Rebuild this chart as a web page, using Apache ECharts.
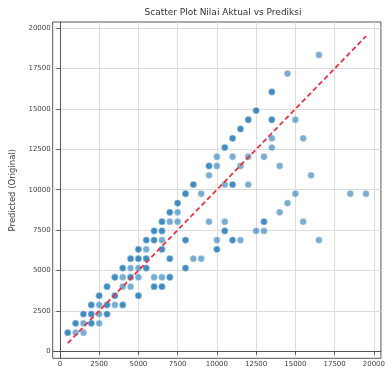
<!DOCTYPE html>
<html>
<head>
<meta charset="utf-8">
<script src="https://cdn.jsdelivr.net/npm/echarts@6/dist/echarts.min.js"></script>
<style>
html,body{margin:0;padding:0;background:#fff;}
#chart{width:388px;height:374px;}
</style>
</head>
<body>
<div id="chart"></div>
<script>
// Actual values (x) and predicted values (y), one entry per point, rows grouped by predicted level
const actualValues = [
  500,500,1000,1500,
  1000,1000,1500,2000,2000,2500,
  1500,1500,2000,2000,2500,3000,3000,
  2000,2000,2500,3000,3000,3500,4000,4000,
  2500,2500,3500,3500,5000,5000,
  3000,3000,4000,4500,6000,6000,6500,6500,
  3500,3500,4000,4500,4500,5000,6000,6500,7000,7000,
  4000,4000,4500,5000,5500,5500,8000,8000,
  4500,4500,5000,5000,5500,5500,7000,7000,8500,9000,
  5000,5000,5500,6500,6500,10000,10000,
  5500,5500,6000,6000,6500,8000,8000,10000,11000,11000,11500,16500,
  6000,6000,6500,6500,10500,10500,12500,13000,
  6500,6500,7000,7500,9500,10500,13000,13000,15500,
  7000,7000,7500,14000,
  7500,7500,14500,
  8000,8000,9000,15000,18500,19500,
  8500,8500,10500,11000,11000,12000,
  9500,16000,
  9500,9500,10000,11500,14000,
  10000,11000,12000,13000,
  10500,10500,13500,
  11000,11000,13500,15500,
  11500,11500,
  12000,12000,13500,13500,15000,
  12500,12500,
  13500,13500,
  14500,
  16500
];
const predictedValues = [
  1150,1150,1150,1150,
  1730,1730,1730,1730,1730,1730,
  2300,2300,2300,2300,2300,2300,2300,
  2870,2870,2870,2870,2870,2870,2870,2870,
  3440,3440,3440,3440,3440,3440,
  4000,4000,4000,4000,4000,4000,4000,4000,
  4580,4580,4580,4580,4580,4580,4580,4580,4580,4580,
  5150,5150,5150,5150,5150,5150,5150,5150,
  5730,5730,5730,5730,5730,5730,5730,5730,5730,5730,
  6310,6310,6310,6310,6310,6310,6310,
  6880,6880,6880,6880,6880,6880,6880,6880,6880,6880,6880,6880,
  7450,7450,7450,7450,7450,7450,7450,7450,
  8020,8020,8020,8020,8020,8020,8020,8020,8020,
  8600,8600,8600,8600,
  9170,9170,9170,
  9750,9750,9750,9750,9750,9750,
  10320,10320,10320,10320,10320,10320,
  10890,10890,
  11470,11470,11470,11470,11470,
  12040,12040,12040,12040,
  12610,12610,12610,
  13180,13180,13180,13180,
  13760,13760,
  14330,14330,14330,14330,14330,
  14900,14900,
  16050,16050,
  17190,
  18340
];
// Reference (perfect prediction) line endpoints
const refLine = [500, 19500];
// Tick labels
const xTicks = [0,2500,5000,7500,10000,12500,15000,17500,20000];
const yTicks = [0,2500,5000,7500,10000,12500,15000,17500,20000];

const points = actualValues.map((a, i) => [a, predictedValues[i]]);
const FONT = 'DejaVu Sans';
const plain = v => String(v);

const chart = echarts.init(document.getElementById('chart'), null, {renderer: 'canvas'});
chart.setOption({
  animation: false,
  backgroundColor: '#fff',
  title: {
    text: 'Scatter Plot Nilai Aktual vs Prediksi',
    left: 223,
    top: 8,
    textAlign: 'center',
    padding: 0,
    textStyle: {fontFamily: FONT, fontSize: 9, fontWeight: 'normal', color: '#333'}
  },
  grid: {
    left: 52.7, top: 22, width: 340.5, height: 336.3,
    show: true, borderColor: '#555', borderWidth: 1, backgroundColor: 'transparent'
  },
  xAxis: {
    type: 'value', min: -460, max: 20450,
    axisLine: {show: true, lineStyle: {color: '#555', width: 1}},
    axisTick: {show: true, customValues: xTicks, length: 3.5, lineStyle: {color: '#555'}},
    axisLabel: {customValues: xTicks, formatter: plain, fontFamily: FONT, fontSize: 7, color: '#444', margin: 2},
    splitLine: {show: true, lineStyle: {color: '#dcdcdc', width: 1}}
  },
  yAxis: {
    type: 'value', min: -435, max: 20380,
    name: 'Predicted (Original)',
    nameLocation: 'middle', nameGap: 32, nameRotate: 90,
    nameTextStyle: {fontFamily: FONT, fontSize: 8.5, color: '#444'},
    axisLine: {show: true, lineStyle: {color: '#555', width: 1}},
    axisTick: {show: true, customValues: yTicks, length: 3.5, lineStyle: {color: '#555'}},
    axisLabel: {customValues: yTicks, formatter: plain, fontFamily: FONT, fontSize: 7, color: '#444', margin: 2},
    splitLine: {show: true, lineStyle: {color: '#dcdcdc', width: 1}}
  },
  series: [
    {
      type: 'scatter',
      data: points,
      symbolSize: 6.8,
      itemStyle: {color: '#1f77b4', opacity: 0.6, borderColor: '#ffffff', borderWidth: 0.6},
      z: 2
    },
    {
      type: 'line',
      data: [[refLine[0], refLine[0]], [refLine[1], refLine[1]]],
      symbol: 'none',
      lineStyle: {color: '#f0303f', width: 1.8, type: [5, 3]},
      z: 3
    }
  ]
});
</script>
</body>
</html>
